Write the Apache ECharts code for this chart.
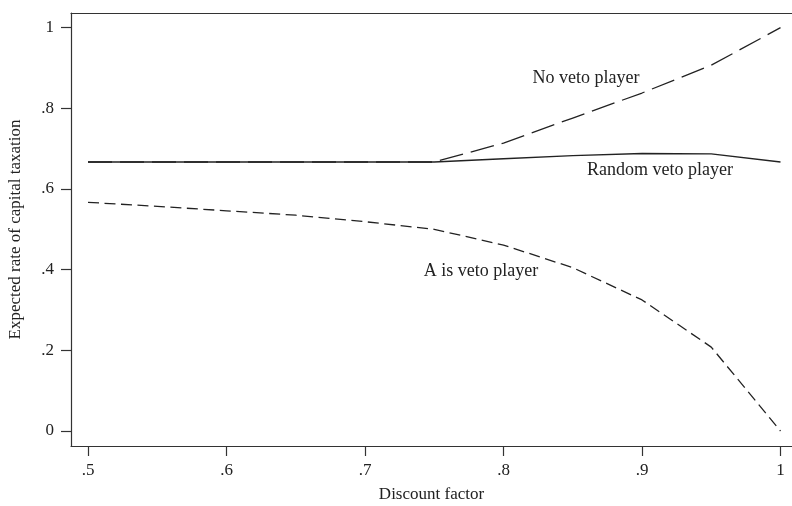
<!DOCTYPE html>
<html>
<head>
<meta charset="utf-8">
<script src="https://cdn.jsdelivr.net/npm/echarts@6/dist/echarts.min.js"></script>
<style>
  html, body { margin: 0; padding: 0; background: #fff; }
  #chart { width: 792px; height: 506px; }
</style>
</head>
<body>
<div id="chart"></div>
<script>
// Discount factor grid
const discount = [0.5, 0.55, 0.6, 0.65, 0.7, 0.75, 0.8, 0.85, 0.9, 0.95, 1.0];
// Expected rate of capital taxation under each institutional setting
const noVeto     = [0.667, 0.667, 0.667, 0.667, 0.667, 0.667, 0.714, 0.776, 0.838, 0.907, 1.000];
const randomVeto = [0.667, 0.667, 0.667, 0.667, 0.667, 0.667, 0.675, 0.683, 0.688, 0.687, 0.667];
const aVeto      = [0.567, 0.557, 0.546, 0.535, 0.519, 0.500, 0.461, 0.405, 0.325, 0.208, 0.000];

const xTicks = [0.5, 0.6, 0.7, 0.8, 0.9, 1.0];
const yTicks = [0, 0.2, 0.4, 0.6, 0.8, 1.0];

// Curve captions and where they sit (data coordinates)
const captions = [
  { text: 'No veto player',     at: [0.8595, 0.875] },
  { text: 'Random veto player', at: [0.913, 0.647] },
  { text: 'A is veto player',   at: [0.7837, 0.397] }
];

const FONT = "'Liberation Serif', 'DejaVu Serif', serif";
const INK = '#222';
const AXIS = '#333';

function fmt(v) {
  if (Math.abs(v) < 1e-9) return '0';
  if (Math.abs(v - 1) < 1e-9) return '1';
  return String(Math.round(v * 10) / 10).replace(/^0/, '');
}

const pairs = ys => discount.map((x, i) => [x, ys[i]]);

const captionLabel = {
  show: true, position: 'inside', formatter: p => p.name,
  fontFamily: FONT, fontSize: 18, color: INK
};

const chart = echarts.init(document.getElementById('chart'), null, { renderer: 'canvas' });

chart.setOption({
  animation: false,
  backgroundColor: '#fff',
  grid: { left: 71, top: 13, right: 0, bottom: 60, containLabel: false, outerBoundsMode: 'none' },
  xAxis: [
    {
      type: 'value',
      min: 0.4877,
      max: 1.0083,
      name: 'Discount factor',
      nameLocation: 'middle',
      nameGap: 40,
      nameTextStyle: { fontFamily: FONT, fontSize: 17, color: INK },
      axisLine: { show: true, onZero: false, lineStyle: { color: AXIS, width: 1.2 } },
      axisTick: { show: true, inside: false, length: 10, customValues: xTicks, lineStyle: { color: AXIS, width: 1.2 } },
      axisLabel: { show: true, margin: 16, customValues: xTicks, formatter: fmt, fontFamily: FONT, fontSize: 17, color: INK },
      splitLine: { show: false }
    },
    {
      type: 'value',
      position: 'top',
      min: 0.4877,
      max: 1.0083,
      axisLine: { show: true, onZero: false, lineStyle: { color: AXIS, width: 1.2 } },
      axisTick: { show: false },
      axisLabel: { show: false },
      splitLine: { show: false }
    }
  ],
  yAxis: {
    type: 'value',
    min: -0.0372,
    max: 1.0364,
    name: 'Expected rate of capital taxation',
    nameLocation: 'middle',
    nameGap: 47,
    nameTextStyle: { fontFamily: FONT, fontSize: 17, color: INK },
    axisLine: { show: true, onZero: false, lineStyle: { color: AXIS, width: 1.2 } },
    axisTick: { show: true, inside: false, length: 10, customValues: yTicks, lineStyle: { color: AXIS, width: 1.2 } },
    axisLabel: { show: true, margin: 17, customValues: yTicks, formatter: fmt, fontFamily: FONT, fontSize: 17, color: INK },
    splitLine: { show: false }
  },
  series: [
    {
      name: 'Random veto player',
      type: 'line',
      data: pairs(randomVeto),
      showSymbol: false,
      lineStyle: { color: INK, width: 1.3, type: 'solid' },
      markPoint: {
        symbol: 'circle', symbolSize: 0, label: captionLabel,
        data: [{ name: captions[1].text, coord: captions[1].at }]
      }
    },
    {
      name: 'No veto player',
      type: 'line',
      data: pairs(noVeto),
      showSymbol: false,
      lineStyle: { color: INK, width: 1.3, type: [24, 8] },
      markPoint: {
        symbol: 'circle', symbolSize: 0, label: captionLabel,
        data: [{ name: captions[0].text, coord: captions[0].at }]
      }
    },
    {
      name: 'A is veto player',
      type: 'line',
      data: pairs(aVeto),
      showSymbol: false,
      lineStyle: { color: INK, width: 1.3, type: [11, 5.5] },
      markPoint: {
        symbol: 'circle', symbolSize: 0, label: captionLabel,
        data: [{ name: captions[2].text, coord: captions[2].at }]
      }
    }
  ]
});
</script>
</body>
</html>
